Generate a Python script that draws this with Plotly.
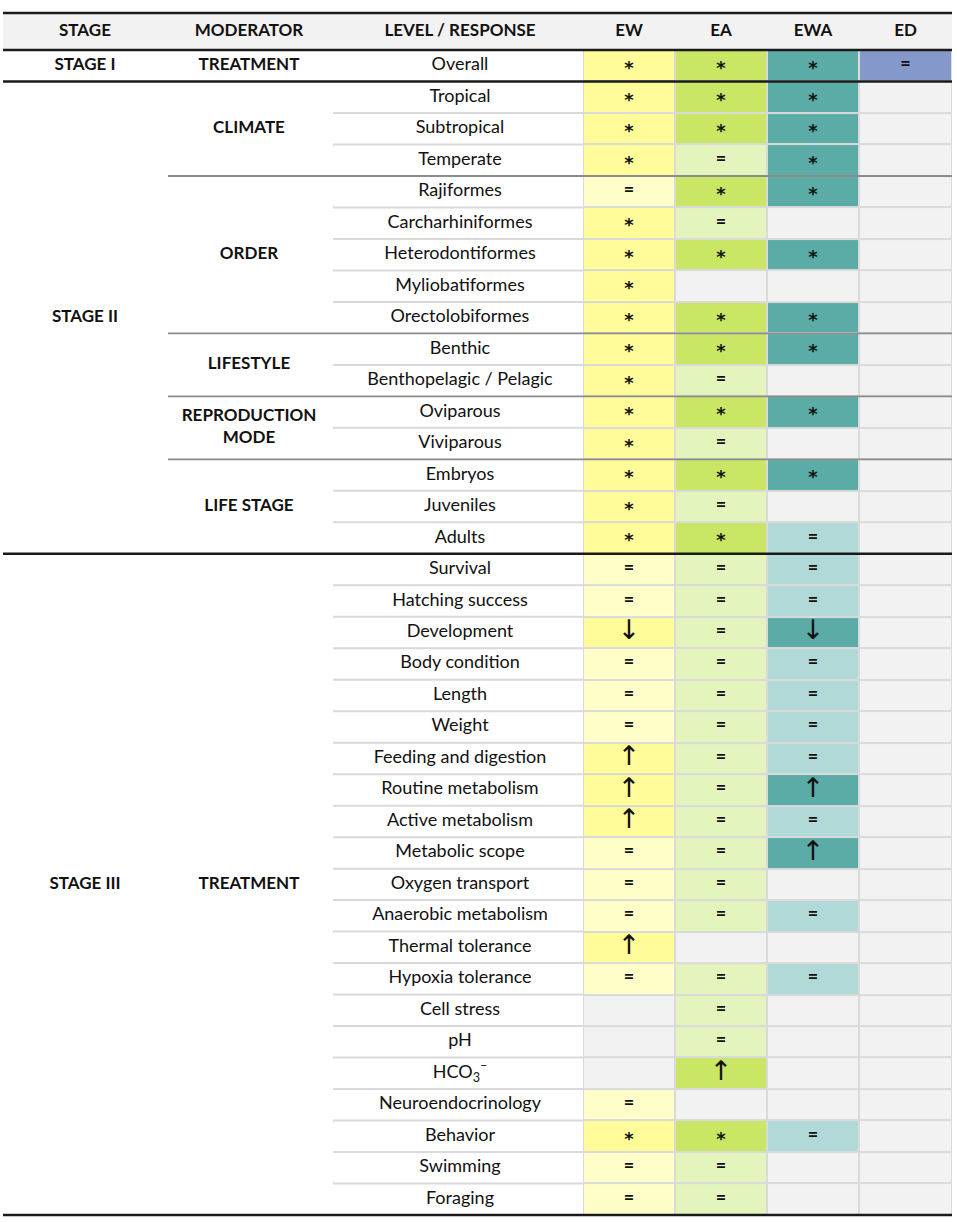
import plotly.graph_objects as go

# ---- table content ----
stages = ["STAGE I", "STAGE II", "STAGE III"]
stage_sizes = [1, 15, 21]

moderators = ["TREATMENT", "CLIMATE", "ORDER", "LIFESTYLE",
              "REPRODUCTION<br>MODE", "LIFE STAGE", "TREATMENT"]
moderator_sizes = [1, 3, 5, 2, 2, 3, 21]

levels = [
    "Overall",
    "Tropical", "Subtropical", "Temperate",
    "Rajiformes", "Carcharhiniformes", "Heterodontiformes", "Myliobatiformes", "Orectolobiformes",
    "Benthic", "Benthopelagic / Pelagic",
    "Oviparous", "Viviparous",
    "Embryos", "Juveniles", "Adults",
    "Survival", "Hatching success", "Development", "Body condition", "Length", "Weight",
    "Feeding and digestion", "Routine metabolism", "Active metabolism", "Metabolic scope",
    "Oxygen transport", "Anaerobic metabolism", "Thermal tolerance", "Hypoxia tolerance",
    "Cell stress", "pH", "HCO<sub>3</sub><sup>\u2013</sup>", "Neuroendocrinology",
    "Behavior", "Swimming", "Foraging",
]

treatments = ["EW", "EA", "EWA", "ED"]

ew = ["*",
      "*", "*", "*",
      "=", "*", "*", "*", "*",
      "*", "*",
      "*", "*",
      "*", "*", "*",
      "=", "=", "↓", "=", "=", "=",
      "↑", "↑", "↑", "=",
      "=", "=", "↑", "=",
      "", "", "", "=",
      "*", "=", "="]
ea = ["*",
      "*", "*", "=",
      "*", "=", "*", "", "*",
      "*", "=",
      "*", "=",
      "*", "=", "*",
      "=", "=", "=", "=", "=", "=",
      "=", "=", "=", "=",
      "=", "=", "", "=",
      "=", "=", "↑", "",
      "*", "=", "="]
ewa = ["*",
       "*", "*", "*",
       "*", "", "*", "", "*",
       "*", "",
       "*", "",
       "*", "", "=",
       "=", "=", "↓", "=", "=", "=",
       "=", "↑", "=", "↑",
       "", "=", "", "=",
       "", "", "", "",
       "=", "", ""]
ed = ["="] + [""] * 36

# colours: (significant / directional, no effect)
palette = {
    "EW": ("#FFFC99", "#FFFEC8"),
    "EA": ("#C9E665", "#E3F4BD"),
    "EWA": ("#5BABA6", "#B0D9D8"),
    "ED": ("#8598CC", "#8598CC"),
}
empty_color = "#F2F2F2"

FONT = "Lato"
INK = "#111111"

# ---- geometry (plot-area pixels on x, row index on y) ----
W = 949
stage_x, mod_x, level_x = 82, 246, 457
cell_edges = [580, 672, 764, 856, W]
header_h = 1.175
n_rows = len(levels)
y_top = -0.5 - header_h
y_bot = n_rows - 0.5

columns = [ew, ea, ewa, ed]

# discrete colour codes: 0 empty, then strong/light per treatment
scale_colors = [empty_color]
for t in treatments:
    scale_colors += [palette[t][0], palette[t][1]]
n_codes = len(scale_colors)
colorscale = []
for k, c in enumerate(scale_colors):
    colorscale.append([k / n_codes, c])
    colorscale.append([(k + 1) / n_codes, c])

z = []
for i in range(n_rows):
    row = []
    for j, col in enumerate(columns):
        s = col[i]
        if s == "":
            row.append(0)
        elif s == "=":
            row.append(2 + 2 * j)
        else:
            row.append(1 + 2 * j)
    z.append(row)

fig = go.Figure()

fig.add_trace(go.Heatmap(
    z=z, x=cell_edges, y=[i - 0.5 for i in range(n_rows + 1)],
    colorscale=colorscale, zmin=-0.5, zmax=n_codes - 0.5,
    showscale=False, xgap=2, ygap=2, hoverinfo="skip",
))

# cell symbols
centers = [(cell_edges[j] + cell_edges[j + 1]) / 2 for j in range(4)]
eq_x, eq_y, star_x, star_y, arr_x, arr_y, arr_t = [], [], [], [], [], [], []
for j, col in enumerate(columns):
    for i, s in enumerate(col):
        if s in ("↑", "↓"):
            arr_x.append(centers[j]); arr_y.append(i); arr_t.append(s)
        elif s == "*":
            star_x.append(centers[j]); star_y.append(i + 0.12)
        elif s == "=":
            eq_x.append(centers[j]); eq_y.append(i)

fig.add_trace(go.Scatter(x=eq_x, y=eq_y, text=["="] * len(eq_x), mode="text", hoverinfo="skip",
                         textfont=dict(family=FONT, size=18, color=INK, weight="bold")))
fig.add_trace(go.Scatter(x=star_x, y=star_y, text=["*"] * len(star_x), mode="text",
                         hoverinfo="skip",
                         textfont=dict(family="DejaVu Sans", size=18, color=INK, weight="bold")))
fig.add_trace(go.Scatter(x=arr_x, y=arr_y, text=arr_t, mode="text", hoverinfo="skip",
                         textfont=dict(family="DejaVu Sans", size=27, color=INK)))

# level / response labels
fig.add_trace(go.Scatter(x=[level_x] * n_rows, y=list(range(n_rows)), text=levels,
                         mode="text", hoverinfo="skip",
                         textfont=dict(family=FONT, size=18, color=INK)))

# stage and moderator labels
def group_centers(sizes):
    out, start = [], 0
    for s in sizes:
        out.append(start + (s - 1) / 2)
        start += s
    return out

fig.add_trace(go.Scatter(x=[stage_x] * len(stages), y=group_centers(stage_sizes), text=stages,
                         mode="text", hoverinfo="skip",
                         textfont=dict(family=FONT, size=17, color=INK, weight="bold")))
fig.add_trace(go.Scatter(x=[mod_x] * len(moderators), y=group_centers(moderator_sizes),
                         text=moderators, mode="text", hoverinfo="skip",
                         textfont=dict(family=FONT, size=17, color=INK, weight="bold")))

# header
head_labels = ["STAGE", "MODERATOR", "LEVEL / RESPONSE"] + treatments
head_x = [stage_x, mod_x, level_x] + centers
fig.add_trace(go.Scatter(x=head_x, y=[-0.5 - header_h / 2] * len(head_x), text=head_labels,
                         mode="text", hoverinfo="skip",
                         textfont=dict(family=FONT, size=17, color=INK, weight="bold")))

shapes = []
# header band and grid underlay
shapes.append(dict(type="rect", x0=0, x1=W, y0=y_top, y1=-0.5, fillcolor="#F2F2F2",
                   line_width=0, layer="below"))
shapes.append(dict(type="rect", x0=cell_edges[0], x1=W, y0=-0.5, y1=y_bot, fillcolor="#DADADA",
                   line_width=0, layer="below"))

# light rules between rows inside each moderator group
start = 0
mod_bounds = []
for s in moderator_sizes:
    for k in range(1, s):
        shapes.append(dict(type="line", x0=330, x1=cell_edges[0], y0=start + k - 0.5,
                           y1=start + k - 0.5, line=dict(color="#D9D9D9", width=2)))
    start += s
    mod_bounds.append(start - 0.5)

# stage boundaries
stage_bounds, start = [], 0
for s in stage_sizes:
    start += s
    stage_bounds.append(start - 0.5)

# grey rules between moderator groups (inside a stage)
for b in mod_bounds:
    if b not in stage_bounds:
        shapes.append(dict(type="line", x0=165, x1=W, y0=b, y1=b,
                           line=dict(color="#8C8C8C", width=1.8)))

for b in [y_top, -0.5] + stage_bounds:
    shapes.append(dict(type="line", x0=0, x1=W, y0=b, y1=b,
                       line=dict(color="#1A1A1A", width=2.5)))

fig.update_layout(
    width=957, height=1222,
    margin=dict(l=3, r=5, t=11, b=5),
    plot_bgcolor="white", paper_bgcolor="white",
    showlegend=False, shapes=shapes,
    xaxis=dict(range=[0, W], visible=False, fixedrange=True),
    yaxis=dict(range=[y_bot + 0.065, y_top - 0.065], visible=False, fixedrange=True),
)

# page body margin would push the table 8px off its place
fig.write_html("out.html", config={"displayModeBar": False},
               post_script="document.body.style.margin='0';")
